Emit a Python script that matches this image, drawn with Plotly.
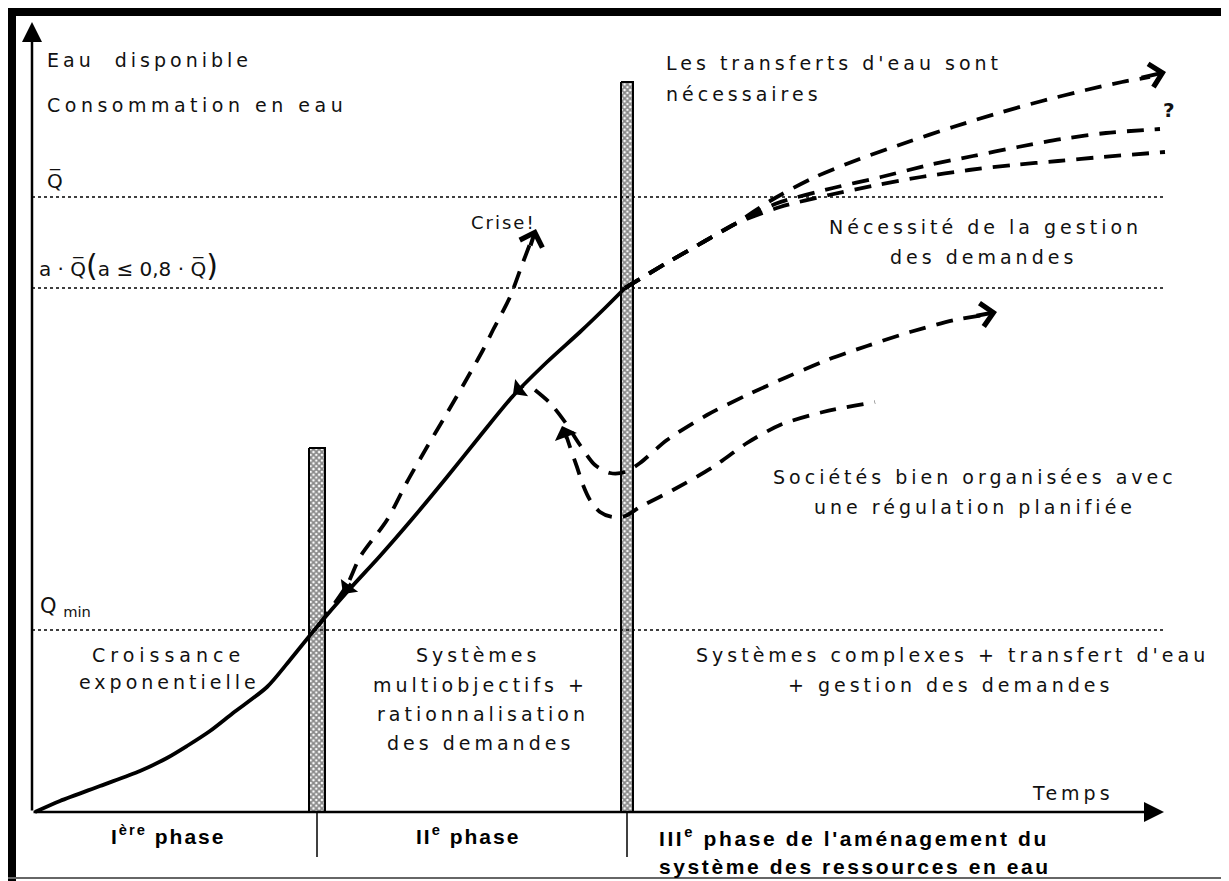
import plotly.graph_objects as go

W, H = 1229, 881
PAD = 8  # the page body keeps a default 8px margin
FONT = "DejaVu Sans"
BOLD = "Liberation Sans"

# diagram coordinates: x = time, y = water quantity (screen-like, axis reversed)
main_t = [35, 60, 100, 140, 167, 187, 210, 233, 267, 290, 316, 347, 380, 413, 447,
          480, 513, 547, 580, 605, 625]
main_q = [812, 801, 786, 771, 758, 746, 731, 713, 687, 660, 628, 592, 556, 518, 477,
          436, 396, 362, 332, 308, 288]

common_t = [625, 665, 705, 735]
common_q = [288, 264, 241, 224]
top_t = [770, 813, 857, 905, 953, 1002, 1042, 1086, 1122, 1150]
top_q = [201, 178, 160, 143, 127, 112, 101, 90, 82, 77]
mid_t = [775, 833, 881, 929, 973, 1018, 1062, 1106, 1160]
mid_q = [204, 188, 177, 165, 156, 147, 139, 133, 129]
low_t = [780, 829, 877, 921, 969, 1013, 1058, 1102, 1165]
low_q = [207, 195, 185, 177, 170, 165, 161, 157, 152]

crise_t = [318, 347, 360, 387, 407, 427, 443, 465, 483, 493, 510, 522, 533]
crise_q = [626, 585, 557, 520, 482, 447, 420, 382, 350, 330, 297, 265, 236]

soc1_t = [535, 550, 565, 580, 595, 610, 625, 640, 667, 707, 747, 787, 827, 867, 910, 955, 990]
soc1_q = [390, 403, 422, 445, 465, 473, 472, 463, 440, 415, 395, 377, 360, 346, 332, 320, 314]

soc2_t = [565, 570, 577, 583, 590, 600, 612, 625, 640, 673, 713, 747, 780, 823, 875]
soc2_q = [432, 447, 467, 485, 500, 512, 517, 516, 507, 490, 467, 443, 425, 412, 402]

bar_t = [317, 627]
bar_top = [448, 82]
bar_half = [8, 6]
axis_q = 812
axis_t = 32
levels_q = [197, 288, 630]          # Q bar, a.Q bar, Q min

fig = go.Figure()

# hatched phase separators
for bt, btop, hw in zip(bar_t, bar_top, bar_half):
    fig.add_trace(go.Scatter(
        x=[bt - hw, bt + hw, bt + hw, bt - hw, bt - hw],
        y=[btop, btop, axis_q, axis_q, btop],
        mode='lines', fill='toself',
        line=dict(color='black', width=2),
        fillpattern=dict(shape='x', size=4, solidity=0.7, fgcolor='#111', bgcolor='white'),
        hoverinfo='skip'))
    fig.add_shape(type='line', x0=bt, x1=bt, y0=axis_q, y1=857,
                  line=dict(color='black', width=1.5))

# dotted reference levels
for lq in levels_q:
    fig.add_shape(type='line', x0=axis_t, x1=1165, y0=lq, y1=lq,
                  line=dict(color='black', width=1.5, dash='3px,3px'))

dash = dict(color='black', width=3.8, dash='17px,11px')


def dashed(t, q):
    fig.add_trace(go.Scatter(x=t, y=q, mode='lines', line=dash,
                             line_shape='spline', line_smoothing=0.8, hoverinfo='skip'))


dashed(crise_t, crise_q)
dashed(common_t + top_t, common_q + top_q)
dashed(common_t + mid_t, common_q + mid_q)
dashed(common_t + low_t, common_q + low_q)
dashed(soc1_t, soc1_q)
dashed(soc2_t, soc2_q)

# main solid curve
fig.add_trace(go.Scatter(x=main_t, y=main_q, mode='lines', line_shape='spline',
                         line_smoothing=0.8,
                         line=dict(color='black', width=3.8), hoverinfo='skip'))


def head(x, y, tx, ty, style=4, width=4, size=1.15):
    fig.add_annotation(x=x, y=y, ax=tx, ay=ty, xref='x', yref='y', axref='x', ayref='y',
                       text='', showarrow=True, arrowhead=style, arrowwidth=width,
                       arrowsize=size, arrowcolor='black')


# axes with arrows
head(axis_t, 22, axis_t, axis_q, style=2, width=2.5, size=1.6)
head(1164, axis_q, axis_t, axis_q, style=2, width=2.5, size=1.6)

# arrow heads on curves
head(1166, 72, 1140, 78)
head(997, 312, 975, 316)
head(536, 229, 530, 247)
head(562, 426, 567, 440, style=1, width=3, size=1.3)
head(513, 394, 525, 385, style=1, width=3, size=1.2)
head(343, 594, 352, 582, style=1, width=3, size=1.2)

# frame
fig.add_shape(type='rect', x0=PAD, x1=W, y0=PAD, y1=16, fillcolor='black', line_width=0)
fig.add_shape(type='rect', x0=PAD, x1=16, y0=PAD, y1=H, fillcolor='black', line_width=0)
fig.add_shape(type='line', x0=1223, x1=1223, y0=PAD, y1=878, line=dict(color='black', width=3))
fig.add_shape(type='line', x0=PAD, x1=1223, y0=878, y1=878, line=dict(color='#666', width=2))


def label(x, y, text, anchor='center', size=19, spacing=4, family=FONT, color='#111'):
    fig.add_annotation(x=x, y=y, xref='x', yref='y', showarrow=False,
                       xanchor=anchor, yanchor='middle',
                       text=f'<span style="letter-spacing:{spacing}px">{text}</span>',
                       font=dict(family=family, size=size, color=color))


label(45, 60, 'Eau  disponible', 'left')
label(45, 105, 'Consommation en eau', 'left', spacing=4.5)
label(45, 180, 'Q\u0305', 'left', size=20, spacing=0)
label(37, 265, 'a · Q\u0305<span style="font-size:30px">(</span>a ≤ 0,8 · Q\u0305'
               '<span style="font-size:30px">)</span>', 'left', size=20, spacing=0)
label(38, 607, 'Q <sub>min</sub>', 'left', size=21, spacing=0)
label(503, 222, 'Crise!', size=18, spacing=2)
label(664, 63, "Les transferts d'eau sont", 'left')
label(664, 94, 'nécessaires', 'left')
label(1169, 110, '<b>?</b>', size=20, spacing=0)
label(985, 227, 'Nécessité de la gestion')
label(983, 257, 'des demandes')
label(975, 477, 'Sociétés bien organisées avec')
label(975, 507, 'une régulation planifiée')
label(168, 655, 'Croissance', spacing=5)
label(169, 682, 'exponentielle')
label(478, 655, 'Systèmes')
label(480, 685, 'multiobjectifs +')
label(483, 714, 'rationnalisation')
label(480, 743, 'des demandes')
label(952, 655, "Systèmes complexes + transfert d'eau")
label(950, 685, '+ gestion des demandes')
label(1116, 793, 'Temps', 'right')

label(168, 835, '<b>I<sup>ère</sup> phase</b>', size=21, spacing=2, family=BOLD, color='black')
label(468, 835, '<b>II<sup>e</sup> phase</b>', size=21, spacing=2, family=BOLD, color='black')
label(657, 837, "<b>III<sup>e</sup> phase de l'aménagement du</b>", 'left', size=21,
      spacing=2.6, family=BOLD, color='black')
label(657, 866, '<b>système des ressources en eau</b>', 'left', size=21,
      spacing=2.6, family=BOLD, color='black')

fig.update_layout(
    width=W - PAD, height=H - PAD,
    margin=dict(l=0, r=0, t=0, b=0),
    plot_bgcolor='white', paper_bgcolor='white',
    showlegend=False,
    xaxis=dict(range=[PAD, W], visible=False, fixedrange=True),
    yaxis=dict(range=[H, PAD], visible=False, fixedrange=True),
)

fig.write_html("out.html", config={'displayModeBar': False})
